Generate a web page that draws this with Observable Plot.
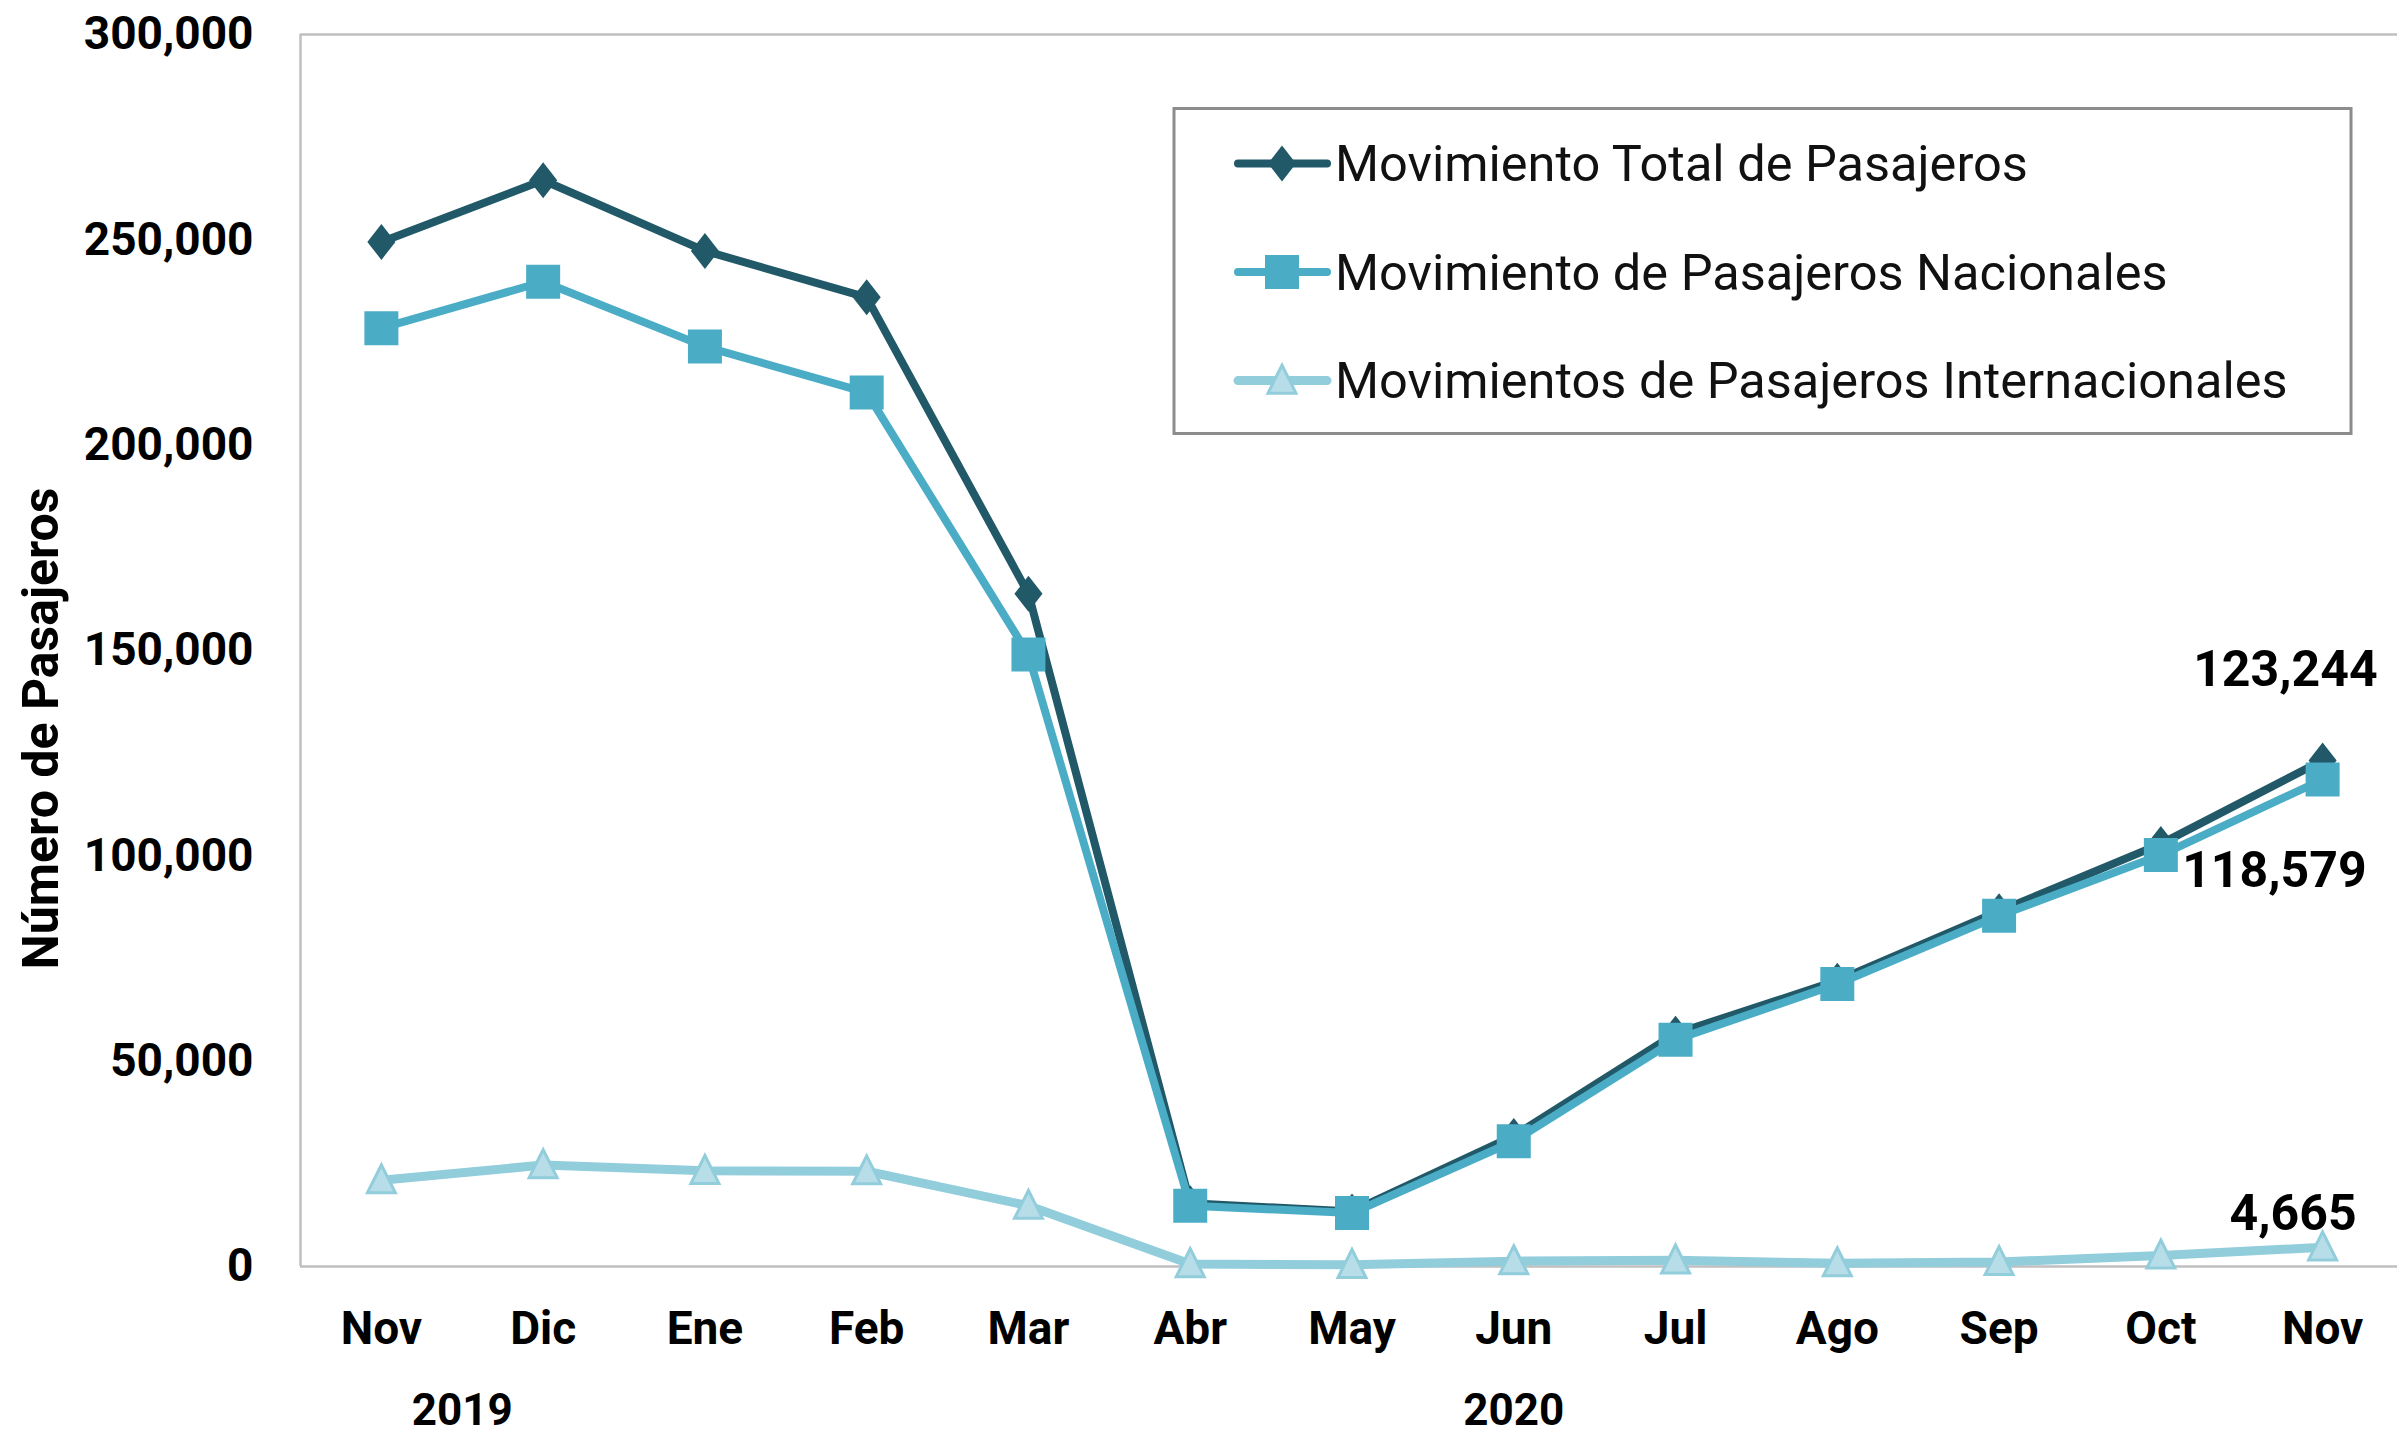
<!DOCTYPE html>
<html><head><meta charset="utf-8">
<script src="https://cdn.jsdelivr.net/npm/d3@7"></script>
<script src="https://cdn.jsdelivr.net/npm/@observablehq/plot@0.6"></script>
<style>
html,body{margin:0;padding:0;background:#fff;}
#chart{position:relative;width:2397px;height:1438px;overflow:hidden;}
</style></head><body><div id="chart"></div>
<script>
const months = ["Nov","Dic","Ene","Feb","Mar","Abr","May","Jun","Jul","Ago","Sep","Oct","Nov"];
const total = [249500,264500,247300,236000,163800,15400,13400,31800,56700,69600,86500,102900,123244];
const nacional = [228500,239800,224000,212800,149000,14800,13000,30500,55200,68800,85400,100200,118579];
const internacional = [21000,24700,23300,23200,14800,600,400,1300,1500,800,1100,2700,4665];
const yTicks = [0,50000,100000,150000,200000,250000,300000];
const yearLabels = ["2019","2020"];
const yearCenters = [0.5, 7];
const seriesNames = ["Movimiento Total de Pasajeros","Movimiento de Pasajeros Nacionales","Movimientos de Pasajeros Internacionales"];
const colors = ["#215968","#4BACC6","#92CDDC"];
const triFill = "#B7DEE8";

const fmt = d3.format(",");
const idx = d3.range(months.length);

const diamondSym = {draw(ctx, size){ const r = Math.sqrt(size/Math.PI); const hy = r, hx = r*0.78;
  ctx.moveTo(0,-hy); ctx.lineTo(hx,0); ctx.lineTo(0,hy); ctx.lineTo(-hx,0); ctx.closePath(); }};
const squareSym = {draw(ctx, size){ const r = Math.sqrt(size/Math.PI); ctx.rect(-r,-r,2*r,2*r); }};
const triSym = {draw(ctx, size){ const r = Math.sqrt(size/Math.PI);
  ctx.moveTo(0,-r*1.1); ctx.lineTo(r,r*0.9); ctx.lineTo(-r,r*0.9); ctx.closePath(); }};

const mk = (vals) => idx.map(i => ({i, v: vals[i]}));
const dT = mk(total), dN = mk(nacional), dI = mk(internacional);
const last = idx.length - 1;

const plot = Plot.plot({
  width: 2397, height: 1438,
  marginLeft: 300, marginRight: 0, marginTop: 34, marginBottom: 172,
  style: {fontFamily: "Roboto, 'Noto Sans', sans-serif", fontSize: "46px", fontWeight: 700, color: "#000", background: "#fff"},
  x: {type: "linear", domain: [-0.5, 12.5], range: [300, 2403]},
  y: {domain: [0, 300000], range: [1266, 34]},
  marks: [
    Plot.ruleY([0, 300000], {stroke: "#BFBFBF", strokeWidth: 2.5}),
    Plot.ruleX([-0.5], {y1: 0, y2: 300000, stroke: "#BFBFBF", strokeWidth: 2.5}),
    Plot.axisY({ticks: yTicks, tickFormat: fmt, tickSize: 0, tickPadding: 47, label: null, fontSize: 46}),
    Plot.axisX({ticks: idx, tickFormat: i => months[i], tickSize: 0, tickPadding: 45, label: null, fontSize: 46}),
    Plot.text(yearLabels, {x: (d, k) => yearCenters[k], y: 0, dy: 144, text: d => d, lineAnchor: "middle", fontSize: 44}),
    Plot.text(["Número de Pasajeros"], {frameAnchor: "left", textAnchor: "middle", dx: -259, dy: 78, rotate: -90, fontSize: 50, lineAnchor: "middle"}),
    Plot.line(dT, {x: "i", y: "v", stroke: colors[0], strokeWidth: 8, strokeLinejoin: "round"}),
    Plot.dot(dT, {x: "i", y: "v", symbol: diamondSym, r: 18, fill: colors[0], stroke: "none"}),
    Plot.line(dN, {x: "i", y: "v", stroke: colors[1], strokeWidth: 8, strokeLinejoin: "round"}),
    Plot.dot(dN, {x: "i", y: "v", symbol: squareSym, r: 17, fill: colors[1], stroke: "none"}),
    Plot.line(dI, {x: "i", y: "v", stroke: colors[2], strokeWidth: 9, strokeLinejoin: "round"}),
    Plot.dot(dI, {x: "i", y: "v", symbol: triSym, r: 14, fill: triFill, stroke: colors[2], strokeWidth: 3}),
    Plot.text([dT[last]], {x: "i", y: "v", text: d => fmt(d.v), textAnchor: "end", dx: 55, dy: -90, fontSize: 50, lineAnchor: "middle"}),
    Plot.text([dN[last]], {x: "i", y: "v", text: d => fmt(d.v), textAnchor: "end", dx: 44, dy: 91, fontSize: 50, lineAnchor: "middle"}),
    Plot.text([dI[last]], {x: "i", y: "v", text: d => fmt(d.v), textAnchor: "end", dx: 34, dy: -33, fontSize: 50, lineAnchor: "middle"})
  ]
});
document.getElementById("chart").appendChild(plot);

// Legend (inside plot area, upper right)
const svg = d3.select(plot);
const lg = svg.append("g").attr("text-anchor", "start");
lg.append("rect").attr("x", 1174).attr("y", 108.5).attr("width", 1177).attr("height", 325)
  .attr("fill", "#fff").attr("stroke", "#8C8C8C").attr("stroke-width", 3);
const rowsY = [163.5, 272, 380.6];
const syms = [diamondSym, squareSym, triSym];
const symR = [18, 17, 14];
seriesNames.forEach((name, k) => {
  const y = rowsY[k];
  lg.append("line").attr("x1", 1238).attr("x2", 1327).attr("y1", y).attr("y2", y)
    .attr("stroke", colors[k]).attr("stroke-width", k === 2 ? 9 : 8).attr("stroke-linecap", "round");
  lg.append("path").attr("transform", `translate(1282,${y})`)
    .attr("d", d3.symbol().type(syms[k]).size(Math.PI * symR[k] * symR[k])())
    .attr("fill", k === 2 ? triFill : colors[k]).attr("stroke", k === 2 ? colors[2] : "none").attr("stroke-width", 3);
  lg.append("text").attr("x", 1335).attr("y", y).attr("dy", "0.35em").attr("text-anchor", "start")
    .attr("font-family", "Roboto, sans-serif").attr("font-weight", 400).attr("font-size", 50.5)
    .attr("fill", "#111").text(name);
});
</script></body></html>
